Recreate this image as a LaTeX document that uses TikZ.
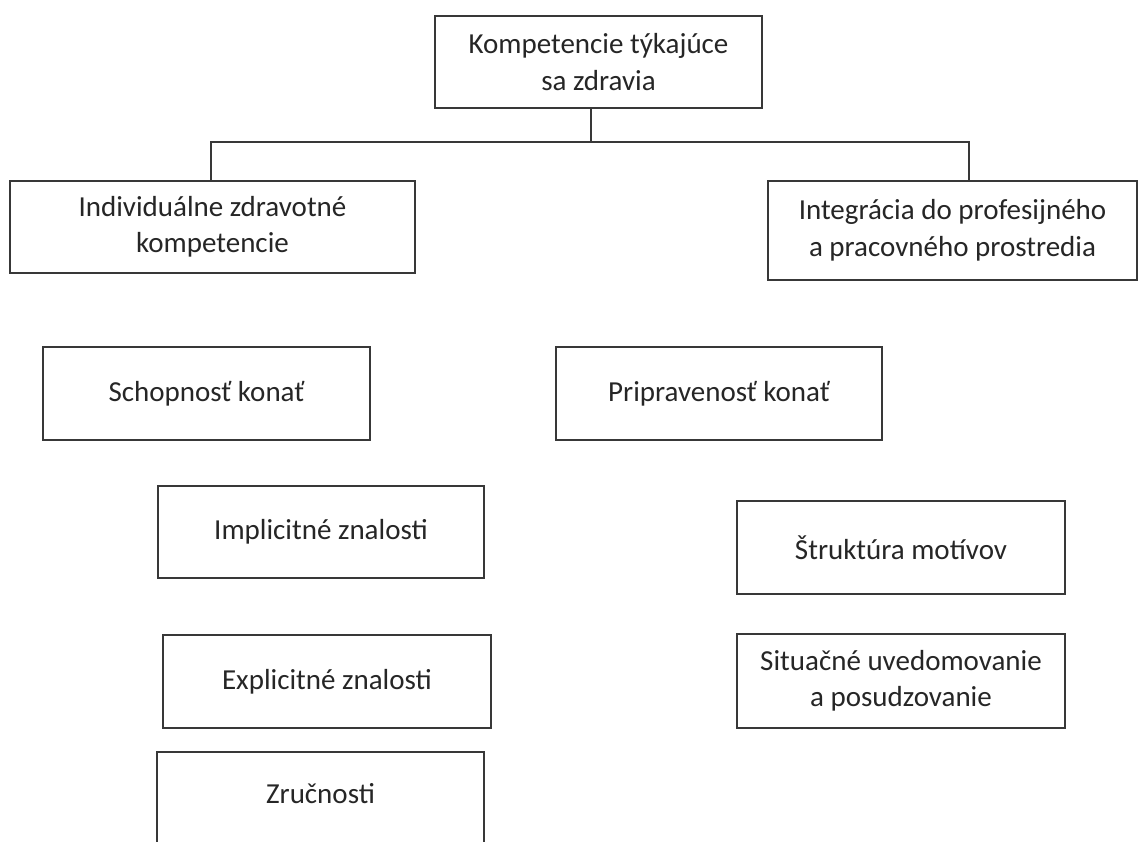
\documentclass[tikz,border=0pt]{standalone}
\usepackage{fontspec}
\setmainfont{Carlito}
\begin{document}
\begin{tikzpicture}[x=1pt,y=-1pt,
  box/.style={draw=black!78, line width=1.6pt, rectangle, inner sep=0pt,
    align=center, text=black!85, font=\fontsize{29}{36.5}\selectfont},
  conn/.style={draw=black!78, line width=1.6pt}]
\useasboundingbox[fill=white] (0,0) rectangle (1139,842);
\node[box, minimum width=327pt, minimum height=92pt] (top) at (598.5,62) {Kompetencie týkajúce\\sa zdravia};
\node[box, minimum width=405pt, minimum height=92pt] (ind) at (212.5,227) {Individuálne zdravotné\\kompetencie};
\node[box, minimum width=369pt, minimum height=99pt] (integ) at (952.5,230.5) {Integrácia do profesijného\\a pracovného prostredia};
\node[box, minimum width=327pt, minimum height=93pt] (schop) at (206.5,393.5) {Schopnosť konať};
\node[box, minimum width=326pt, minimum height=93pt] (prip) at (719,393.5) {Pripravenosť konať};
\node[box, minimum width=326pt, minimum height=92pt] (impl) at (321,532) {Implicitné znalosti};
\node[box, minimum width=328pt, minimum height=93pt] (strukt) at (901,547.5) {Štruktúra motívov};
\node[box, minimum width=328pt, minimum height=93pt] (expl) at (327,681.5) {Explicitné znalosti};
\node[box, minimum width=328pt, minimum height=94pt] (situ) at (901,681) {Situačné uvedomovanie\\a posudzovanie};
\node[box, minimum width=327pt, minimum height=93pt, text depth=10pt] (zruc) at (320.5,798.5) {Zručnosti};
\coordinate (j) at (591,142);
\coordinate (hl) at (211,142);
\coordinate (hr) at (969,142);
\draw[conn] (j |- top.south) -- (j);
\draw[conn, line join=miter] (hl |- ind.north) -- (hl) -- (hr) -- (hr |- integ.north);
\end{tikzpicture}
\end{document}
